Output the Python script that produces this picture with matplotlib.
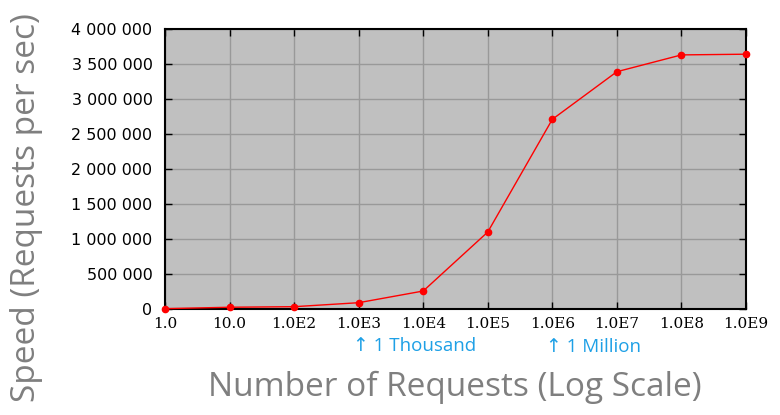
import matplotlib
matplotlib.use("Agg")
import matplotlib.pyplot as plt

requests = [1, 10, 1e2, 1e3, 1e4, 1e5, 1e6, 1e7, 1e8, 1e9]
speed = [5000, 25000, 33000, 90000, 257000, 1100000, 2710000, 3390000, 3630000, 3640000]
x_tick_labels = ["1.0", "10.0", "1.0E2", "1.0E3", "1.0E4", "1.0E5", "1.0E6", "1.0E7", "1.0E8", "1.0E9"]
y_ticks = [0, 500000, 1000000, 1500000, 2000000, 2500000, 3000000, 3500000, 4000000]
y_tick_labels = ["0", "500 000", "1 000 000", "1 500 000", "2 000 000", "2 500 000", "3 000 000", "3 500 000", "4 000 000"]

fig = plt.figure(figsize=(7.8, 4.15), dpi=100)
ax = fig.add_axes([165/780, 1-309/415, (746-165)/780, (309-29)/415])
ax.set_facecolor("#c0c0c0")
ax.plot(requests, speed, color="#ff0000", lw=1.0, marker="o", ms=4.5, zorder=3, clip_on=False)
ax.set_xscale("log")
ax.set_xlim(1, 1e9)
ax.set_ylim(0, 4000000)
ax.set_xticks(requests)
ax.set_xticklabels(x_tick_labels, family="DejaVu Serif", fontsize=11)
ax.minorticks_off()
ax.set_yticks(y_ticks)
ax.set_yticklabels(y_tick_labels, family="DejaVu Sans", fontsize=11.5)
ax.grid(True, color="#999999", lw=1)
ax.set_axisbelow(True)
ax.tick_params(direction="in", top=True, right=True, length=5, width=1, colors="black", pad=6)
ax.tick_params(axis="y", pad=9)
for s in ax.spines.values():
    s.set_linewidth(1.5)
    s.set_color("black")

fig.text(455/780, 1-387/415, "Number of Requests (Log Scale)", family="Open Sans", fontsize=24,
         color="#7f7f7f", ha="center", va="center")
fig.text(27/780, 1-208/415, "Speed (Requests per sec)", rotation=90, family="Open Sans",
         fontsize=24, color="#7f7f7f", ha="center", va="center")

fig.text(353/780, 1-346/415, "\u2191 1 Thousand", family=["Open Sans", "DejaVu Sans"], fontsize=13.5,
         color="#1ea0e6", ha="left", va="center")
fig.text(546/780, 1-347/415, "\u2191 1 Million", family=["Open Sans", "DejaVu Sans"], fontsize=13.5,
         color="#1ea0e6", ha="left", va="center")

fig.savefig("out.png", dpi=100)
